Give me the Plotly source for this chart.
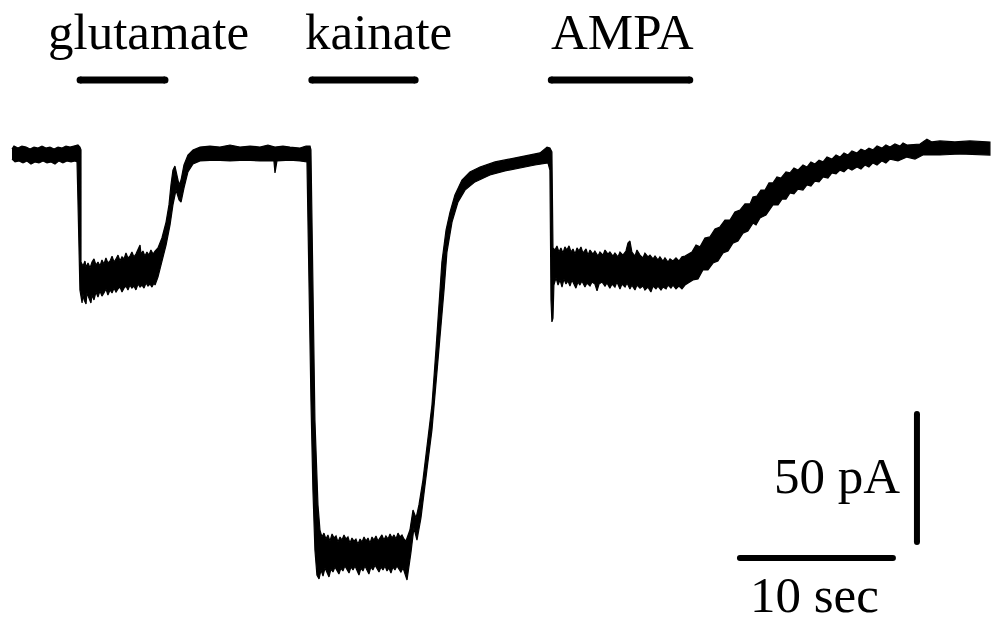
import plotly.graph_objects as go

# Whole-cell current recording (time in s, current in pA, holding baseline = 0 pA).
# The noisy trace is drawn as a filled band: each segment lists (time, current)
# points of its upper edge and of its lower edge.

# --- upper edge ---------------------------------------------------------------
baseline1_upper = [(0.00, 2.3), (0.13, 3.5), (0.39, 2.7), (0.65, 3.5), (0.92, 3.1),
                   (1.18, 2.3), (1.44, 3.1), (1.70, 2.7), (1.96, 3.5), (2.22, 2.7),
                   (2.48, 3.1), (2.75, 2.3), (3.01, 3.1), (3.27, 2.7), (3.53, 3.5),
                   (3.79, 3.1), (4.05, 3.5), (4.31, 3.9), (4.44, 3.1),
                   (4.51, 2.0), (4.51, -41.8)]
glutamate_upper = [(4.64, -43.4), (4.77, -41.4), (4.84, -43.8), (4.97, -42.2), (5.10, -44.1),
                   (5.23, -41.8), (5.36, -40.6), (5.49, -43.0), (5.62, -41.8), (5.75, -43.4),
                   (5.88, -41.0), (6.01, -42.6), (6.14, -40.2), (6.27, -42.2), (6.41, -41.4),
                   (6.54, -39.5), (6.67, -41.8), (6.80, -40.6), (6.93, -39.1), (7.06, -41.4),
                   (7.19, -39.8), (7.32, -40.6), (7.45, -38.3), (7.58, -40.2), (7.71, -39.5),
                   (7.84, -37.9), (7.97, -39.8), (8.10, -38.7), (8.24, -37.1), (8.37, -35.2),
                   (8.43, -38.7), (8.56, -37.5), (8.69, -39.5), (8.82, -37.9), (8.95, -39.1),
                   (9.08, -37.1), (9.22, -38.7), (9.35, -37.5),
                   (9.54, -36.3), (9.80, -32.4), (10.07, -26.2), (10.26, -19.5), (10.39, -11.7),
                   (10.52, -5.9), (10.65, -4.3), (10.78, -7.8), (10.92, -11.7), (11.05, -9.8),
                   (11.24, -3.9), (11.50, 0.0), (11.83, 2.0)]
baseline2_upper = [(12.29, 3.1), (12.94, 3.5), (13.59, 3.1), (14.25, 3.9), (14.90, 3.1),
                   (15.56, 3.5), (16.21, 3.1), (16.73, 3.9), (17.19, 3.1), (17.71, 3.5),
                   (18.17, 3.1), (18.82, 2.7), (19.22, 3.5), (19.48, 3.5),
                   (19.54, 2.0), (19.67, -56.6), (19.80, -103.5), (20.00, -136.7), (20.13, -146.5)]
kainate_upper = [(20.26, -149.2), (20.39, -147.7), (20.52, -150.0), (20.65, -148.4), (20.78, -150.8),
                 (20.92, -148.0), (21.05, -149.6), (21.18, -148.8), (21.31, -151.2), (21.44, -149.2),
                 (21.57, -150.4), (21.70, -148.4), (21.83, -150.0), (21.96, -149.2), (22.09, -151.6),
                 (22.22, -149.6), (22.35, -150.8), (22.48, -150.0), (22.61, -152.0), (22.75, -150.0),
                 (22.88, -151.2), (23.01, -149.2), (23.14, -150.8), (23.27, -149.6), (23.40, -151.6),
                 (23.53, -149.2), (23.66, -150.4), (23.79, -148.8), (23.92, -150.8), (24.05, -149.6),
                 (24.18, -148.4), (24.31, -150.4), (24.44, -148.8), (24.58, -150.0), (24.71, -148.0),
                 (24.84, -149.6), (24.97, -148.4), (25.10, -150.0), (25.23, -147.7), (25.36, -149.2),
                 (25.49, -148.4), (25.62, -150.0), (25.75, -150.8),
                 (26.01, -146.5), (26.21, -138.7), (26.41, -141.8), (26.60, -136.7), (26.86, -127.0),
                 (27.19, -111.3), (27.45, -97.7), (27.71, -76.2), (27.91, -56.6), (28.10, -41.8),
                 (28.37, -29.3), (28.63, -22.3), (28.95, -15.6), (29.41, -9.8), (29.93, -6.6),
                 (30.59, -4.7), (31.57, -2.7), (32.55, -1.6), (33.53, -0.4), (34.51, 0.8),
                 (34.97, 3.1), (35.16, 2.7), (35.29, 1.2), (35.36, -36.3)]
ampa_upper = [(35.49, -37.1), (35.62, -35.5), (35.75, -37.9), (35.88, -36.3), (36.01, -38.3),
              (36.14, -35.9), (36.27, -37.1), (36.41, -35.5), (36.54, -37.9), (36.67, -36.7),
              (36.80, -38.7), (36.93, -36.3), (37.06, -37.5), (37.19, -35.9), (37.32, -38.3),
              (37.52, -36.7), (37.65, -39.1), (37.78, -37.1), (37.97, -38.7), (38.10, -37.5),
              (38.30, -39.5), (38.43, -37.9), (38.63, -39.1), (38.76, -37.1), (38.95, -38.7),
              (39.08, -37.9), (39.28, -39.5), (39.41, -38.3), (39.61, -39.8), (39.74, -37.9),
              (39.93, -39.1), (40.13, -37.5), (40.26, -34.4), (40.39, -33.6), (40.52, -37.9),
              (40.72, -39.5), (40.85, -37.1), (41.05, -39.1), (41.24, -40.2), (41.37, -38.3),
              (41.57, -39.8), (41.70, -39.1), (41.90, -40.6), (42.03, -39.5), (42.22, -41.0),
              (42.35, -39.8), (42.55, -41.4), (42.68, -40.2), (42.88, -41.8), (43.01, -40.6),
              (43.20, -41.4), (43.40, -40.2), (43.59, -41.4), (43.79, -39.8), (43.99, -39.5)]
recovery_upper = [(44.44, -37.9), (44.71, -35.2), (44.97, -35.9), (45.29, -32.4), (45.62, -32.0),
                  (45.95, -28.9), (46.27, -28.1), (46.60, -25.4), (46.93, -25.4), (47.25, -22.3),
                  (47.58, -21.5), (47.91, -19.1), (48.24, -19.1), (48.43, -16.4), (48.69, -16.0),
                  (48.95, -13.7), (49.22, -13.7), (49.48, -10.9), (49.74, -10.9), (50.00, -8.6),
                  (50.26, -9.0), (50.59, -6.6), (50.85, -7.0), (51.11, -5.1), (51.37, -5.9),
                  (51.70, -3.9), (51.96, -4.7), (52.22, -2.7), (52.48, -3.5), (52.75, -2.0),
                  (53.01, -2.7), (53.27, -0.8), (53.59, -1.6), (53.86, 0.0), (54.12, -0.8),
                  (54.38, 0.8), (54.64, 0.0), (54.90, 1.6), (55.23, 0.8), (55.49, 2.3),
                  (55.75, 1.6), (56.01, 2.7), (56.27, 2.0), (56.54, 3.5), (56.86, 2.7),
                  (57.12, 3.9), (57.39, 3.1), (57.71, 4.3), (58.04, 3.5), (58.24, 4.7),
                  (58.50, 3.9), (59.35, 4.3), (59.80, 6.2), (60.13, 5.1), (60.65, 5.5),
                  (61.63, 5.1), (62.61, 5.5), (63.92, 5.1)]

# --- lower edge ---------------------------------------------------------------
baseline1_lower = [(0.00, -1.6), (0.20, -2.7), (0.46, -2.3), (0.72, -3.1), (0.98, -2.3),
                   (1.24, -3.5), (1.50, -2.7), (1.76, -3.1), (2.03, -2.3), (2.29, -3.1),
                   (2.55, -2.7), (2.81, -3.5), (3.07, -2.3), (3.33, -3.1), (3.59, -2.3),
                   (3.86, -2.7), (4.12, -2.3), (4.25, -2.7),
                   (4.31, -17.6), (4.38, -41.0), (4.44, -52.7)]
glutamate_lower = [(4.58, -57.8), (4.64, -54.3), (4.71, -56.6), (4.84, -58.2), (4.90, -53.9),
                   (5.03, -55.9), (5.16, -57.8), (5.23, -54.7), (5.36, -56.6), (5.49, -53.5),
                   (5.62, -55.5), (5.75, -53.1), (5.88, -55.1), (6.01, -53.9), (6.14, -52.3),
                   (6.27, -54.7), (6.41, -52.7), (6.54, -53.9), (6.67, -52.0), (6.80, -53.5),
                   (6.93, -52.3), (7.06, -51.6), (7.19, -53.5), (7.32, -52.0), (7.45, -51.2),
                   (7.58, -52.7), (7.71, -50.8), (7.84, -52.0), (7.97, -51.2), (8.10, -52.7),
                   (8.24, -50.4), (8.37, -51.6), (8.50, -50.8), (8.63, -52.0), (8.76, -50.0),
                   (8.89, -51.2), (9.02, -50.4), (9.15, -51.6), (9.28, -50.0), (9.35, -50.8),
                   (9.54, -47.7), (9.80, -41.8), (10.07, -35.2), (10.33, -27.3), (10.52, -19.5),
                   (10.72, -13.7), (10.92, -17.6), (11.05, -18.4), (11.24, -12.9), (11.50, -6.6),
                   (11.83, -3.5)]
baseline2_lower = [(12.29, -2.3), (13.27, -2.0), (14.25, -2.3), (15.23, -2.0), (16.21, -2.3),
                   (17.12, -2.3), (17.19, -7.0), (17.32, -2.3), (18.17, -2.0), (18.82, -2.3),
                   (19.28, -2.7),
                   (19.35, -17.6), (19.41, -41.0), (19.54, -95.7), (19.67, -130.9), (19.80, -154.3),
                   (19.93, -164.1)]
kainate_lower = [(20.07, -165.6), (20.20, -162.1), (20.33, -164.5), (20.46, -161.3), (20.59, -163.3),
                 (20.72, -164.8), (20.85, -161.7), (20.98, -162.9), (21.11, -160.9), (21.24, -162.5),
                 (21.37, -163.7), (21.50, -161.3), (21.63, -162.5), (21.76, -160.5), (21.90, -162.1),
                 (22.03, -163.3), (22.16, -160.9), (22.29, -162.1), (22.42, -160.5), (22.55, -162.5),
                 (22.68, -164.1), (22.81, -161.3), (22.94, -162.5), (23.07, -160.5), (23.20, -161.7),
                 (23.33, -163.7), (23.46, -160.9), (23.59, -162.1), (23.73, -160.2), (23.86, -161.7),
                 (23.99, -162.9), (24.12, -160.9), (24.25, -162.1), (24.38, -160.5), (24.51, -162.5),
                 (24.64, -161.3), (24.77, -163.3), (24.90, -160.9), (25.03, -162.1), (25.16, -160.5),
                 (25.29, -161.7), (25.42, -162.9), (25.56, -161.3), (25.69, -163.7), (25.82, -166.0),
                 (25.95, -160.2),
                 (26.08, -155.1), (26.27, -145.7), (26.47, -150.4), (26.73, -141.8), (27.12, -123.0),
                 (27.45, -107.4), (27.71, -89.8), (27.97, -71.5), (28.24, -52.7), (28.43, -37.9),
                 (28.76, -26.2), (29.15, -18.4), (29.61, -13.7), (30.26, -10.5), (31.24, -7.8),
                 (32.22, -6.2), (33.20, -5.1), (34.18, -3.9), (35.03, -3.1),
                 (35.16, -5.9), (35.23, -56.6), (35.29, -65.2), (35.36, -63.7), (35.42, -50.8)]
ampa_lower = [(35.56, -48.0), (35.69, -50.8), (35.82, -48.8), (35.95, -51.6), (36.08, -48.4),
              (36.21, -50.4), (36.34, -49.2), (36.47, -51.2), (36.60, -48.8), (36.73, -50.0),
              (36.86, -52.0), (36.99, -49.6), (37.12, -50.8), (37.25, -49.2), (37.45, -51.6),
              (37.58, -50.0), (37.78, -51.2), (37.91, -49.6), (38.10, -50.4), (38.24, -53.1),
              (38.37, -50.4), (38.56, -49.6), (38.76, -51.2), (38.89, -50.0), (39.08, -52.0),
              (39.22, -50.4), (39.41, -51.6), (39.54, -49.6), (39.74, -52.3), (39.87, -50.4),
              (40.07, -51.6), (40.20, -50.0), (40.39, -52.3), (40.52, -50.8), (40.72, -52.7),
              (40.85, -50.8), (41.05, -52.0), (41.24, -51.2), (41.37, -52.7), (41.57, -51.6),
              (41.76, -53.5), (41.90, -51.2), (42.09, -52.3), (42.22, -51.2), (42.42, -52.7),
              (42.55, -51.6), (42.75, -52.3), (42.88, -50.8), (43.07, -52.0), (43.20, -50.8),
              (43.40, -52.3), (43.59, -51.2), (43.79, -52.3), (43.99, -50.8), (44.18, -50.0)]
recovery_lower = [(44.51, -48.8), (44.84, -48.4), (45.16, -44.9), (45.49, -44.9), (45.82, -42.2),
                  (46.14, -41.4), (46.47, -38.3), (46.80, -37.5), (47.12, -34.4), (47.45, -33.6),
                  (47.78, -30.5), (48.10, -29.7), (48.43, -26.6), (48.63, -27.3), (48.89, -24.6),
                  (49.28, -23.4), (49.74, -19.5), (50.07, -19.5), (50.33, -17.2), (50.59, -17.2),
                  (50.85, -14.8), (51.11, -15.2), (51.37, -13.3), (51.70, -13.7), (51.96, -11.7),
                  (52.22, -12.1), (52.48, -10.2), (52.75, -10.5), (53.01, -8.6), (53.33, -9.0),
                  (53.59, -7.0), (53.86, -7.4), (54.12, -5.9), (54.38, -6.6), (54.64, -5.1),
                  (54.90, -5.9), (55.23, -4.7), (55.49, -5.5), (55.75, -3.9), (56.01, -4.7),
                  (56.27, -3.1), (56.54, -3.9), (56.86, -2.3), (57.12, -3.1), (57.39, -1.6),
                  (57.91, -2.3), (58.50, -0.8), (59.02, -1.6), (59.54, 0.0), (60.65, 0.0),
                  (61.96, 0.4), (63.92, 0.0)]

# Agonist applications (bars above the trace)
agonists = ["glutamate", "kainate", "AMPA"]
application_start = [4.45, 19.60, 35.25]
application_end = [10.00, 26.35, 44.30]
label_t = [8.92, 23.95, 39.90]

# Calibration
scale_time = 10    # s
scale_current = 50  # pA

INK = "#000000"
FONT = dict(family="Liberation Serif, Times New Roman, serif", size=51, color=INK)

upper = (baseline1_upper + glutamate_upper + baseline2_upper + kainate_upper
         + ampa_upper + recovery_upper)
lower = (baseline1_lower + glutamate_lower + baseline2_lower + kainate_lower
         + ampa_lower + recovery_lower)
outline = upper + lower[::-1]

fig = go.Figure()

# recorded current band
fig.add_trace(go.Scatter(
    x=[p[0] for p in outline],
    y=[p[1] for p in outline],
    mode="lines",
    fill="toself",
    fillcolor=INK,
    line=dict(color=INK, width=1.2),
    hoverinfo="skip",
    showlegend=False,
))

# application bars and agonist names
bar_level = 29.3
for name, t0, t1, tl in zip(agonists, application_start, application_end, label_t):
    fig.add_trace(go.Scatter(
        x=[t0, t1], y=[bar_level, bar_level],
        mode="lines+markers",
        line=dict(color=INK, width=7),
        marker=dict(color=INK, size=7),
        hoverinfo="skip", showlegend=False,
    ))
    fig.add_annotation(x=tl, y=47.9, text=name, showarrow=False,
                       xanchor="center", yanchor="middle", font=FONT)

# calibration bars
bar_t = 59.15
bar_top = -101.2
fig.add_trace(go.Scatter(
    x=[bar_t, bar_t], y=[bar_top, bar_top - scale_current],
    mode="lines+markers", line=dict(color=INK, width=6),
    marker=dict(color=INK, size=6),
    hoverinfo="skip", showlegend=False,
))
hbar_t0 = 47.58
hbar_level = -157.4
fig.add_trace(go.Scatter(
    x=[hbar_t0, hbar_t0 + scale_time], y=[hbar_level, hbar_level],
    mode="lines+markers", line=dict(color=INK, width=6),
    marker=dict(color=INK, size=6),
    hoverinfo="skip", showlegend=False,
))
fig.add_annotation(x=58.17, y=-125.2, text=f"{scale_current} pA", showarrow=False,
                   xanchor="right", yanchor="middle", font=FONT)
fig.add_annotation(x=52.48, y=0, yref="paper", text=f"{scale_time} sec", showarrow=False,
                   xanchor="center", yanchor="bottom", borderpad=0, font=FONT)

fig.update_xaxes(range=[-0.784, 63.99], visible=False, fixedrange=True)
fig.update_yaxes(range=[-183.2, 60.55], visible=False, fixedrange=True)
fig.update_layout(
    width=991, height=624,
    margin=dict(l=0, r=0, t=0, b=0),
    paper_bgcolor="white", plot_bgcolor="white",
    showlegend=False,
)

fig.write_html("out.html")
